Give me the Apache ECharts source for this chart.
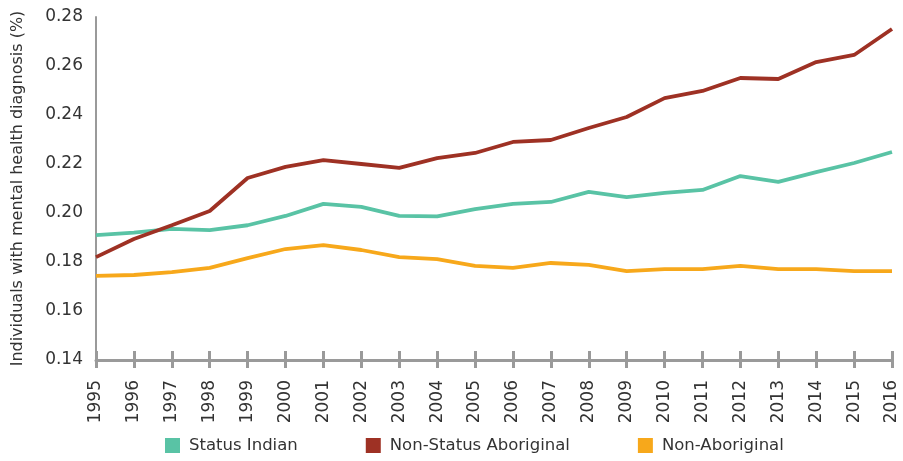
<!DOCTYPE html>
<html>
<head>
<meta charset="utf-8">
<script src="https://cdn.jsdelivr.net/npm/echarts@6/dist/echarts.min.js"></script>
<style>
  html, body { margin: 0; padding: 0; background: #fff; }
  #chart { width: 903px; height: 461px; }
</style>
</head>
<body>
<div id="chart"></div>
<script>
// Share of individuals with a mental health diagnosis, by group, 1995–2016
const years = ['1995','1996','1997','1998','1999','2000','2001','2002','2003','2004','2005',
               '2006','2007','2008','2009','2010','2011','2012','2013','2014','2015','2016'];

const statusIndian = [0.191, 0.192, 0.1935, 0.193, 0.195, 0.1988, 0.2037, 0.2025, 0.1988, 0.1986, 0.2016,
                      0.2037, 0.2045, 0.2086, 0.2065, 0.2082, 0.2094, 0.2151, 0.2127, 0.2167, 0.2204, 0.2249];

const nonStatusAboriginal = [0.182, 0.1894, 0.195, 0.2008, 0.2143, 0.2188, 0.2216, 0.22, 0.2184, 0.2224, 0.2245,
                             0.229, 0.2298, 0.2347, 0.2392, 0.2469, 0.2498, 0.2551, 0.2547, 0.2616, 0.2645, 0.2751];

const nonAboriginal = [0.1743, 0.1747, 0.1759, 0.1776, 0.1816, 0.1853, 0.1869, 0.1849, 0.182, 0.1812, 0.1784,
                       0.1776, 0.1796, 0.1788, 0.1763, 0.1771, 0.1771, 0.1784, 0.1771, 0.1771, 0.1763, 0.1763];

const seriesNames = ['Status Indian', 'Non-Status Aboriginal', 'Non-Aboriginal'];
const colors = ['#59c3a5', '#9e3124', '#f7a81b'];

const FONT = '"DejaVu Sans", Arial, sans-serif';
const AXIS_GREY = '#9a9a9a';

const chart = echarts.init(document.getElementById('chart'), null, { renderer: 'canvas' });

const lineSeries = (name, data, color) => ({
  name: name,
  type: 'line',
  data: data,
  xAxisIndex: 0,
  yAxisIndex: 0,
  symbol: 'none',
  smooth: false,
  lineStyle: { color: color, width: 3.8 },
  itemStyle: { color: color }
});

chart.setOption({
  animation: false,
  color: colors,
  textStyle: { fontFamily: FONT },
  grid: { left: 96, right: 11, top: 17, bottom: 101 },
  legend: {
    left: 160,
    top: 432,
    icon: 'rect',
    itemWidth: 15,
    itemHeight: 15,
    itemGap: 68,
    textStyle: { fontFamily: FONT, fontSize: 16.5, color: '#333', padding: [0, 0, 0, 4] },
    data: seriesNames
  },
  xAxis: [
    {
      type: 'category',
      data: years,
      boundaryGap: false,
      axisLine: { lineStyle: { color: AXIS_GREY, width: 3 } },
      axisTick: { show: true, length: 8, interval: 0, lineStyle: { color: AXIS_GREY, width: 3 } },
      axisLabel: {
        rotate: 90, interval: 0, margin: 20,
        fontFamily: FONT, fontSize: 17, color: '#333'
      },
      splitLine: { show: false }
    },
    {
      // companion axis so the tick marks cross the baseline
      type: 'category',
      data: years,
      position: 'bottom',
      boundaryGap: false,
      axisLine: { show: false },
      axisTick: { show: true, inside: true, length: 9, interval: 0, lineStyle: { color: AXIS_GREY, width: 3 } },
      axisLabel: { show: false },
      splitLine: { show: false }
    }
  ],
  yAxis: {
    type: 'value',
    min: 0.14,
    max: 0.28,
    interval: 0.02,
    name: 'Individuals with mental health diagnosis (%)',
    nameLocation: 'middle',
    nameGap: 70,
    nameTextStyle: { fontFamily: FONT, fontSize: 16, color: '#333' },
    axisLine: { show: true, lineStyle: { color: AXIS_GREY, width: 2 } },
    axisTick: { show: false },
    splitLine: { show: false },
    axisLabel: {
      margin: 13,
      fontFamily: FONT, fontSize: 17, color: '#333',
      formatter: v => v.toFixed(2)
    }
  },
  series: [
    lineSeries(seriesNames[0], statusIndian, colors[0]),
    lineSeries(seriesNames[1], nonStatusAboriginal, colors[1]),
    lineSeries(seriesNames[2], nonAboriginal, colors[2])
  ]
});
</script>
</body>
</html>
